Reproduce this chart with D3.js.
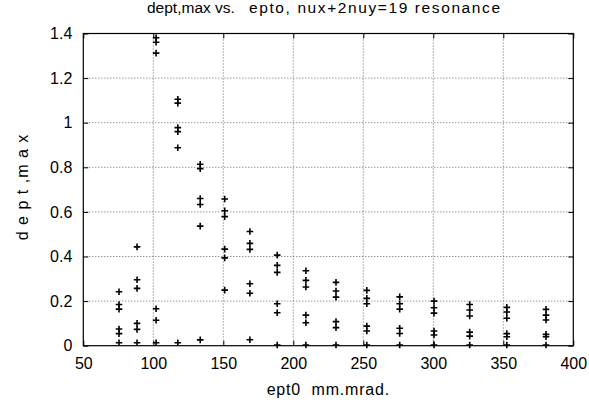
<!DOCTYPE html>
<html>
<head>
<meta charset="utf-8">
<script src="https://cdn.jsdelivr.net/npm/d3@7"></script>
<style>
  body { margin: 0; background: #fff; }
  text { font-family: "Liberation Sans", Arial, sans-serif; fill: #000; white-space: pre; }
</style>
</head>
<body>
<svg id="chart"></svg>
<script>
const width = 589;
const height = 410;

// emittance columns (mm.mrad) and the dept,max values found in each one
const ept0 = [75.5, 88.4, 102, 117.5, 133.5, 151, 169, 188.5, 209, 230.5, 252.5, 276, 300.5, 326, 352.5, 380.5];
const deptMax = [
  [0.242, 0.185, 0.164, 0.075, 0.054, 0.013],
  [0.443, 0.296, 0.257, 0.100, 0.073, 0.013],
  [1.381, 1.361, 1.312, 0.166, 0.114, 0.013],
  [1.105, 1.088, 0.978, 0.960, 0.888, 0.013],
  [0.814, 0.794, 0.660, 0.633, 0.536, 0.026],
  [0.658, 0.605, 0.579, 0.433, 0.394, 0.249],
  [0.512, 0.459, 0.432, 0.278, 0.235, 0.027],
  [0.406, 0.360, 0.329, 0.188, 0.148, 0.003],
  [0.336, 0.293, 0.263, 0.137, 0.103, 0.003],
  [0.284, 0.245, 0.218, 0.108, 0.081, 0.003],
  [0.248, 0.212, 0.188, 0.088, 0.066, 0.003],
  [0.219, 0.188, 0.164, 0.078, 0.055, 0.003],
  [0.200, 0.170, 0.146, 0.066, 0.048, 0.003],
  [0.185, 0.160, 0.133, 0.061, 0.043, 0.003],
  [0.172, 0.151, 0.123, 0.054, 0.040, 0.003],
  [0.163, 0.137, 0.115, 0.051, 0.040, 0.003]
];
const xTicks = [50, 100, 150, 200, 250, 300, 350, 400];
const yTicks = [0, 0.2, 0.4, 0.6, 0.8, 1, 1.2, 1.4];

const titleParts = ["dept,max vs.", "epto, nux+2nuy=19 resonance"];
const xLabel = "ept0  mm.mrad.";
const yLabel = "d e p t ,m a x";

const margin = {left: 83.3, right: 15.7, top: 33.5, bottom: 64.3};
const plotW = width - margin.left - margin.right;
const plotH = height - margin.top - margin.bottom;

const svg = d3.select("#chart").attr("width", width).attr("height", height);

const x = d3.scaleLinear().domain([50, 400]).range([0, plotW]);
const y = d3.scaleLinear().domain([0, 1.4]).range([plotH, 0]);

const g = svg.append("g").attr("transform", "translate(" + margin.left + "," + margin.top + ")");

// dotted grid
g.append("g").selectAll("line")
  .data(xTicks.slice(1, -1))
  .enter().append("line")
  .attr("x1", d => x(d)).attr("x2", d => x(d))
  .attr("y1", 0).attr("y2", plotH)
  .attr("stroke", "#444").attr("stroke-width", 0.8).attr("stroke-dasharray", "1,2");

g.append("g").selectAll("line")
  .data(yTicks.slice(1, -1))
  .enter().append("line")
  .attr("x1", 0).attr("x2", plotW)
  .attr("y1", d => y(d)).attr("y2", d => y(d))
  .attr("stroke", "#444").attr("stroke-width", 0.8).attr("stroke-dasharray", "1,2");

// axes, gnuplot style: ticks inside, mirrored on top/right
const tickLen = 5;
const xAxis = d3.axisBottom(x).tickValues(xTicks).tickFormat(d3.format("d")).tickSizeInner(-tickLen).tickSizeOuter(0).tickPadding(12);
const yAxis = d3.axisLeft(y).tickValues(yTicks).tickFormat(d => d3.format("")(d)).tickSizeInner(-tickLen).tickSizeOuter(0).tickPadding(11);

const gx = g.append("g").attr("transform", "translate(0," + plotH + ")").call(xAxis);
const gy = g.append("g").call(yAxis);
const gxTop = g.append("g").call(d3.axisTop(x).tickValues(xTicks).tickSizeInner(-tickLen).tickSizeOuter(0).tickFormat(""));
const gyRight = g.append("g").attr("transform", "translate(" + plotW + ",0)")
  .call(d3.axisRight(y).tickValues(yTicks).tickSizeInner(-tickLen).tickSizeOuter(0).tickFormat(""));

[gx, gy, gxTop, gyRight].forEach(a => {
  a.select(".domain").remove();
  a.selectAll("line").attr("stroke", "#000");
  a.selectAll("text").style("font-size", "16px").style("font-family", "Liberation Sans, Arial, sans-serif");
});

// frame
g.append("rect")
  .attr("width", plotW).attr("height", plotH)
  .attr("fill", "none").attr("stroke", "#000").attr("stroke-width", 1.2);

// points as plus markers
const pts = [];
ept0.forEach((e, i) => deptMax[i].forEach(v => pts.push({e: e, v: v})));

const arm = 3.3;
g.append("g").selectAll("path")
  .data(pts)
  .enter().append("path")
  .attr("d", d => {
    const px = x(d.e), py = y(d.v);
    return "M" + (px - arm) + "," + py + "H" + (px + arm) + "M" + px + "," + (py - arm) + "V" + (py + arm);
  })
  .attr("stroke", "#000").attr("stroke-width", 1.6).attr("fill", "none");

// title
const t = svg.append("text")
  .attr("y", 12.7)
  .style("font-size", "15.5px");
t.append("tspan").attr("x", 147).text(titleParts[0] + "  ");
t.append("tspan").attr("x", 249).style("letter-spacing", "1.6px").text(titleParts[1]);

svg.append("text")
  .attr("x", margin.left + plotW / 2).attr("y", 395)
  .attr("text-anchor", "middle")
  .style("font-size", "16px")
  .style("letter-spacing", "0.8px")
  .text(xLabel);

svg.append("text")
  .attr("transform", "translate(28,187) rotate(-90)")
  .attr("text-anchor", "middle")
  .style("font-size", "16px")
  .style("letter-spacing", "1px")
  .text(yLabel);
</script>
</body>
</html>
